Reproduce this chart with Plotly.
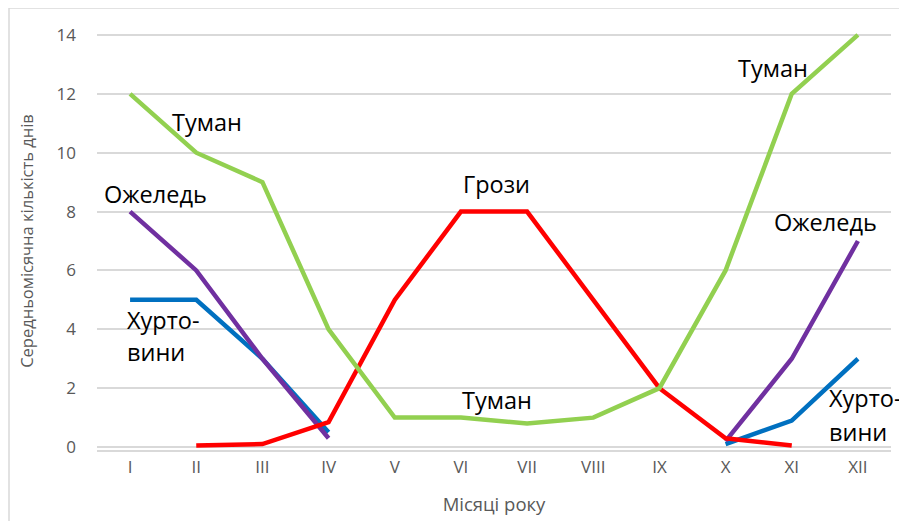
import plotly.graph_objects as go

months = ["I", "II", "III", "IV", "V", "VI", "VII", "VIII", "IX", "X", "XI", "XII"]
fog = [12, 10, 9, 4, 1, 1, 0.8, 1, 2, 6, 12, 14]
storms = [None, 0.05, 0.1, 0.85, 5, 8, 8, 5, 2, 0.3, 0.05, None]
ice = [8, 6, 3, 0.3, None, None, None, None, None, 0.2, 3, 7]
blizzard = [5, 5, 3, 0.5, None, None, None, None, None, 0.1, 0.9, 3]

fig = go.Figure()
for vals, col in [(blizzard, "#0070C0"), (ice, "#7030A0"), (storms, "#FF0000"), (fog, "#92D050")]:
    fig.add_trace(go.Scatter(x=months, y=vals, mode="lines",
                             line=dict(color=col, width=4.5), connectgaps=False,
                             hoverinfo="skip", showlegend=False))

font_lbl = dict(family="Open Sans", size=23.5, color="#000000")
labels = [
    ("Туман", 207, 122, "center"),
    ("Ожеледь", 155, 194, "center"),
    ("Хурто-", 125, 320, "left"),
    ("вини", 125, 352, "left"),
    ("Грози", 496, 184, "center"),
    ("Туман", 497, 400, "center"),
    ("Туман", 773, 68, "center"),
    ("Ожеледь", 825, 222, "center"),
    ("Хурто-", 827, 398, "left"),
    ("вини", 827, 432, "left"),
]
OFF = 8
L, T, W, H = 97, 32, 794, 418
for txt, px, py, al in labels:
    fig.add_annotation(text=txt, xref="paper", yref="paper",
                       x=(px - L) / W, y=(T + H - py) / H,
                       xanchor=al, yanchor="middle", showarrow=False, font=font_lbl)

fig.add_shape(type="rect", xref="paper", yref="paper",
              x0=(9 - L) / W, x1=(910 - L) / W, y0=(T + H - 525) / H, y1=(T + H - 8) / H,
              line=dict(color="#D9D9D9", width=1.5), layer="below")

fig.update_layout(
    width=907, height=521,
    margin=dict(l=L - OFF, r=907 - L - W + OFF, t=T - OFF, b=521 - T - H + OFF),
    paper_bgcolor="white", plot_bgcolor="white",
    xaxis=dict(type="category", range=[-0.5, 11.5], showgrid=False,
               showline=True, linecolor="#D9D9D9", linewidth=1.5,
               ticks="", tickfont=dict(family="Open Sans", size=17, color="#595959"),
               ticklabelstandoff=1,
               title=dict(text="Місяці року", font=dict(family="Open Sans", size=18.5, color="#595959"),
                          standoff=21),
               fixedrange=True),
    yaxis=dict(range=[-0.1, 14.1], tickvals=[0, 2, 4, 6, 8, 10, 12, 14],
               showgrid=True, gridcolor="#D9D9D9", gridwidth=1.5, zeroline=False,
               ticks="", tickfont=dict(family="Open Sans", size=17, color="#595959"),
               ticklabelstandoff=20,
               title=dict(text="Середньомісячна кількість днів",
                          font=dict(family="Open Sans", size=16.5, color="#595959"),
                          standoff=18),
               fixedrange=True),
)
fig.write_html("out.html")
